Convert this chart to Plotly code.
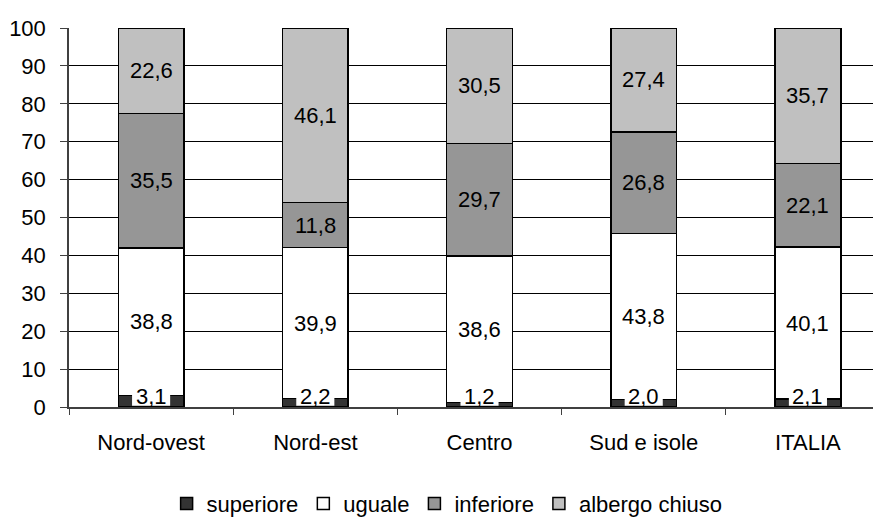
import plotly.graph_objects as go

categories = ["Nord-ovest", "Nord-est", "Centro", "Sud e isole", "ITALIA"]
superiore = [3.1, 2.2, 1.2, 2.0, 2.1]
uguale = [38.8, 39.9, 38.6, 43.8, 40.1]
inferiore = [35.5, 11.8, 29.7, 26.8, 22.1]
albergo_chiuso = [22.6, 46.1, 30.5, 27.4, 35.7]
y_ticks = [0, 10, 20, 30, 40, 50, 60, 70, 80, 90, 100]

series = [
    ("superiore", superiore, "#333333"),
    ("uguale", uguale, "#FFFFFF"),
    ("inferiore", inferiore, "#969696"),
    ("albergo chiuso", albergo_chiuso, "#C0C0C0"),
]

FONT = "Liberation Sans, Arial, sans-serif"
FS = 22
fig = go.Figure()
for name, vals, col in series:
    fig.add_trace(go.Bar(
        x=categories, y=vals, name=name, width=0.4,
        marker=dict(color=col, line=dict(color="#000000", width=1.5)),
        hoverinfo="skip",
    ))

annotations = []
shapes = []
base = [0.0] * len(categories)
for si, (name, vals, col) in enumerate(series):
    for i, v in enumerate(vals):
        mid = base[i] + v / 2
        txt = f"{v:.1f}".replace(".", ",")
        a = dict(x=categories[i], y=mid, xref="x", yref="y", text=txt,
                 showarrow=False, font=dict(family=FONT, size=FS, color="#000000"))
        if si == 0:
            # white label box over the thin bottom segment, as in the reference
            a.update(y=0, yanchor="bottom", yshift=-4)
            shapes.append(dict(type="rect", xref="x", yref="y", layer="above",
                               x0=i - 0.116, x1=i + 0.116, y0=0.3, y1=v + 0.4,
                               fillcolor="#FFFFFF", line=dict(width=0)))
        annotations.append(a)
        base[i] += v

fig.update_layout(
    width=873, height=511,
    margin=dict(l=61, r=0, t=20, b=112),
    plot_bgcolor="#FFFFFF", paper_bgcolor="#FFFFFF",
    barmode="stack",
    font=dict(family=FONT, size=FS, color="#000000"),
    annotations=annotations,
    shapes=shapes,
    showlegend=True,
    legend=dict(orientation="h", xref="container", yref="container",
                x=0.503, xanchor="center", y=0.03, yanchor="middle",
                font=dict(family=FONT, size=FS, color="#000000"),
                traceorder="normal", itemwidth=30, tracegroupgap=0),
    xaxis=dict(range=[-0.5, 4.445], showline=True, linecolor="#404040", linewidth=1.5,
               ticks="outside", tickson="boundaries", ticklen=6, tickcolor="#404040",
               showgrid=False, ticklabelstandoff=15,
               tickfont=dict(family=FONT, size=FS, color="#000000")),
    yaxis=dict(range=[0, 100], tickvals=y_ticks, showline=True, linecolor="#404040",
               linewidth=1.5, ticks="outside", ticklen=7, tickcolor="#404040",
               showgrid=True, gridcolor="#000000", gridwidth=1, zeroline=False,
               ticklabelstandoff=10,
               tickfont=dict(family=FONT, size=FS, color="#000000")),
)

fig.write_html("out.html")
